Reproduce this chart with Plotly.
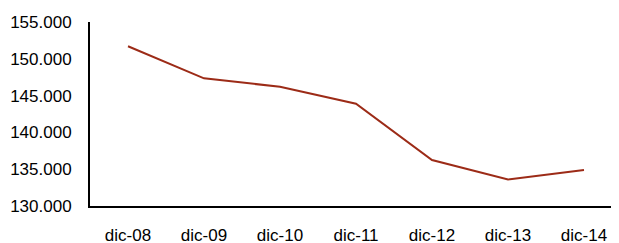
import plotly.graph_objects as go

categories = ["dic-08", "dic-09", "dic-10", "dic-11", "dic-12", "dic-13", "dic-14"]
values = [151700, 147350, 146200, 143900, 136250, 133600, 134900]
y_ticks = [130000, 135000, 140000, 145000, 150000, 155000]

fig = go.Figure()
fig.add_trace(go.Scatter(
    x=categories, y=values, mode="lines",
    line=dict(color="#9C2B17", width=2),
    showlegend=False,
))

font = dict(family="Liberation Sans, Arial, sans-serif", size=17, color="#000000")
fig.update_layout(
    width=619, height=243,
    margin=dict(l=82, r=5, t=14, b=45, autoexpand=False),
    paper_bgcolor="white", plot_bgcolor="white",
    separators=",.",
    font=font,
    xaxis=dict(
        type="category", range=[-0.5, 6.5], automargin=False,
        showline=True, linecolor="black", linewidth=2,
        showgrid=False, zeroline=False, ticks="",
        ticklabelstandoff=13, tickfont=font,
    ),
    yaxis=dict(
        range=[130000, 155000], tickvals=y_ticks, tickformat=",d", automargin=False,
        showline=True, linecolor="black", linewidth=2,
        showgrid=False, zeroline=False, ticks="",
        ticklabelstandoff=13, tickfont=font,
    ),
)
fig.write_html("out.html")
